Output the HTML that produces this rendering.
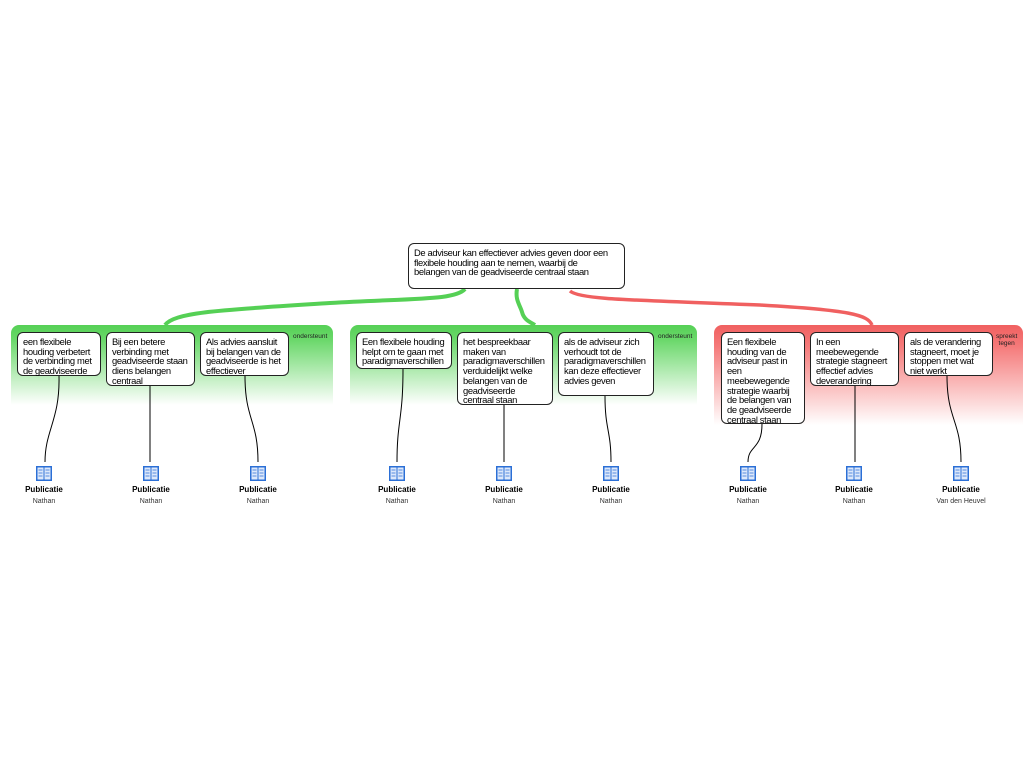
<!DOCTYPE html>
<html><head><meta charset="utf-8"><style>
body{margin:0;width:1024px;height:768px;background:#fff;position:relative;overflow:hidden;font-family:"Liberation Sans",sans-serif}
.p{position:absolute;border-radius:8px 8px 0 0}
.g{background:linear-gradient(#55d055 0px,#6bd86b 15px,#fff 80px)}
.r{background:linear-gradient(#f06060 0px,#f57878 20px,#fff 100px)}
.b{position:absolute;background:#fff;border:1.3px solid #222;border-radius:6px;font-size:9.4px;line-height:9.7px;padding:4px 4px 4px 5px;box-sizing:border-box;color:#000;white-space:nowrap;letter-spacing:-0.35px}
.lab{position:absolute;font-size:6.5px;color:#222;text-align:center;line-height:7px}
</style></head><body>
<div class="p g" style="left:11px;top:325px;width:322px;height:85px"></div>
<div class="p g" style="left:350px;top:325px;width:347px;height:82px"></div>
<div class="p r" style="left:714px;top:325px;width:309px;height:100px"></div>
<div class="lab" style="left:293px;top:333px">ondersteunt</div>
<div class="lab" style="left:658px;top:333px">ondersteunt</div>
<div class="lab" style="left:996px;top:333px">spreekt<br>tegen</div>
<svg style="position:absolute;left:0;top:0" width="1024" height="768">
<g fill="none">
<path d="M465 289 C455 300,420 298,330 303 C220 310,175 312,165 325" stroke="#55d055" stroke-width="4"/>
<path d="M517 289 C515 300,520 305,522 312 C524 320,530 322,535 325" stroke="#55d055" stroke-width="4"/>
<path d="M570 291 C580 300,640 300,760 305 C850 310,868 315,872 325" stroke="#f06060" stroke-width="3.5"/>
<g stroke="#000" stroke-width="1">
<path d="M59 376 C60 420,45 430,45 462"/>
<path d="M150 386 L150 462"/>
<path d="M245 376 C245 420,258 420,258 462"/>
<path d="M403 369 C403 420,397 420,397 462"/>
<path d="M504 405 L504 462"/>
<path d="M605 396 C605 430,611 430,611 462"/>
<path d="M762 424 C762 450,748 445,748 462"/>
<path d="M855 386 L855 462"/>
<path d="M947 376 C947 420,961 420,961 462"/>
</g></g>
</svg>
<div class="b" style="left:408px;top:243px;width:217px;height:46px">De adviseur kan effectiever advies geven door een<br>flexibele houding aan te nemen, waarbij de<br>belangen van de geadviseerde centraal staan</div>
<div class="b" style="left:17px;top:332px;width:84px;height:44px">een flexibele<br>houding verbetert<br>de verbinding met<br>de geadviseerde</div>
<div class="b" style="left:106px;top:332px;width:89px;height:54px">Bij een betere<br>verbinding met<br>geadviseerde staan<br>diens belangen<br>centraal</div>
<div class="b" style="left:200px;top:332px;width:89px;height:44px">Als advies aansluit<br>bij belangen van de<br>geadviseerde is het<br>effectiever</div>
<div class="b" style="left:356px;top:332px;width:96px;height:37px">Een flexibele houding<br>helpt om te gaan met<br>paradigmaverschillen</div>
<div class="b" style="left:457px;top:332px;width:96px;height:73px">het bespreekbaar<br>maken van<br>paradigmaverschillen<br>verduidelijkt welke<br>belangen van de<br>geadviseerde<br>centraal staan</div>
<div class="b" style="left:558px;top:332px;width:96px;height:64px">als de adviseur zich<br>verhoudt tot de<br>paradigmaverschillen<br>kan deze effectiever<br>advies geven</div>
<div class="b" style="left:721px;top:332px;width:84px;height:92px">Een flexibele<br>houding van de<br>adviseur past in<br>een<br>meebewegende<br>strategie waarbij<br>de belangen van<br>de geadviseerde<br>centraal staan</div>
<div class="b" style="left:810px;top:332px;width:89px;height:54px">In een<br>meebewegende<br>strategie stagneert<br>effectief advies<br>deverandering</div>
<div class="b" style="left:904px;top:332px;width:89px;height:44px">als de verandering<br>stagneert, moet je<br>stoppen met wat<br>niet werkt</div>
<svg style="position:absolute;left:0;top:0" width="1024" height="768">
<defs><g id="bk"><rect x="-8" y="0" width="16" height="15" fill="#2b6fd6"/><rect x="-6.5" y="1.5" width="6" height="12" fill="#dce8fb"/><rect x="0.5" y="1.5" width="6" height="12" fill="#dce8fb"/><path d="M-5.5 4h4M-5.5 7h4M-5.5 10h4M1.5 4h4M1.5 7h4M1.5 10h4" stroke="#2b6fd6" stroke-width="0.8"/></g></defs>
<use href="#bk" x="44" y="466"/><use href="#bk" x="151" y="466"/><use href="#bk" x="258" y="466"/>
<use href="#bk" x="397" y="466"/><use href="#bk" x="504" y="466"/><use href="#bk" x="611" y="466"/>
<use href="#bk" x="748" y="466"/><use href="#bk" x="854" y="466"/><use href="#bk" x="961" y="466"/>
<g font-family="Liberation Sans" text-anchor="middle">
<g font-size="8" font-weight="bold">
<text x="44" y="492">Publicatie</text><text x="151" y="492">Publicatie</text><text x="258" y="492">Publicatie</text>
<text x="397" y="492">Publicatie</text><text x="504" y="492">Publicatie</text><text x="611" y="492">Publicatie</text>
<text x="748" y="492">Publicatie</text><text x="854" y="492">Publicatie</text><text x="961" y="492">Publicatie</text></g>
<g font-size="7" fill="#333">
<text x="44" y="503">Nathan</text><text x="151" y="503">Nathan</text><text x="258" y="503">Nathan</text>
<text x="397" y="503">Nathan</text><text x="504" y="503">Nathan</text><text x="611" y="503">Nathan</text>
<text x="748" y="503">Nathan</text><text x="854" y="503">Nathan</text><text x="961" y="503">Van den Heuvel</text></g>
</g></svg>
</body></html>
